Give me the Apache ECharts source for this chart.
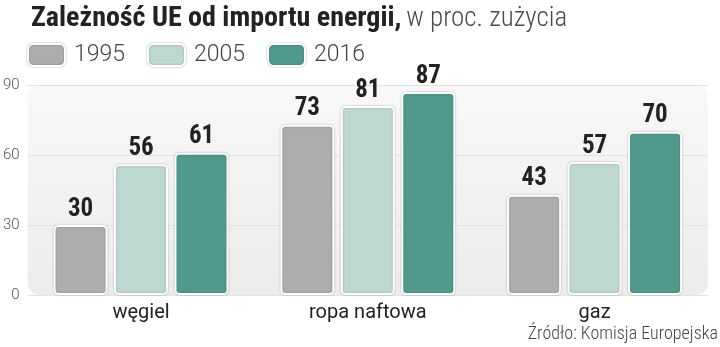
<!DOCTYPE html>
<html>
<head>
<meta charset="utf-8">
<script src="https://cdn.jsdelivr.net/npm/echarts@6/dist/echarts.min.js"></script>
<style>
  html, body { margin: 0; padding: 0; background: #ffffff; }
  #chart { width: 720px; height: 347px; }
</style>
</head>
<body>
<div id="chart"></div>
<script>
// Import dependency of the EU by energy source, % of consumption
const categories = ['węgiel', 'ropa naftowa', 'gaz'];
const years = ['1995', '2005', '2016'];
const values1995 = [30, 73, 43];
const values2005 = [56, 81, 57];
const values2016 = [61, 87, 70];
const yTicks = [0, 30, 60, 90];

const colors = ['#adadad', '#bdd8d0', '#4f9a8c'];
const condensed = '"Roboto Condensed", Roboto, sans-serif';

const chart = echarts.init(document.getElementById('chart'), null, { renderer: 'canvas' });

function barSeries(name, data, color) {
  return {
    name: name,
    type: 'bar',
    data: data,
    barWidth: 54,
    barGap: '12%',
    itemStyle: {
      color: color,
      borderColor: '#ffffff',
      borderWidth: 2,
      borderRadius: 4,
      shadowColor: 'rgba(0,0,0,0.25)',
      shadowBlur: 2
    },
    label: {
      show: true,
      position: 'top',
      distance: 3,
      color: '#222222',
      fontFamily: condensed,
      fontWeight: 'bold',
      fontSize: 25
    },
    z: 3
  };
}

const option = {
  backgroundColor: '#ffffff',
  animation: false,
  title: {
    text: '{b|Zależność UE od importu energii,} {n|w proc. zużycia}',
    left: 26,
    top: 0,
    textStyle: {
      rich: {
        b: { fontFamily: condensed, fontWeight: 'bold', fontSize: 28, color: '#222222' },
        n: { fontFamily: condensed, fontWeight: 300, fontSize: 27, color: '#4a4a4a' }
      }
    }
  },
  legend: {
    data: years,
    left: 22,
    top: 38,
    itemWidth: 37,
    itemHeight: 22,
    itemGap: 22,
    icon: 'roundRect',
    itemStyle: { borderColor: '#ffffff', borderWidth: 2, shadowColor: 'rgba(0,0,0,0.3)', shadowBlur: 2 },
    textStyle: { fontFamily: 'Roboto, sans-serif', fontWeight: 300, fontSize: 23, color: '#444444', padding: [0, 0, 0, 4] }
  },
  grid: { left: 26, right: 12, top: 85, bottom: 52, containLabel: false },
  xAxis: {
    type: 'category',
    data: categories,
    axisLine: { show: false },
    axisTick: { show: false },
    axisLabel: { color: '#222222', fontFamily: 'Roboto, sans-serif', fontSize: 20, margin: 8 }
  },
  yAxis: {
    type: 'value',
    min: 0,
    max: 90,
    interval: 30,
    axisLine: { show: false },
    axisTick: { show: false },
    axisLabel: {
      color: '#555555',
      fontFamily: 'Roboto, sans-serif',
      fontWeight: 300,
      fontSize: 15,
      margin: 8,
      formatter: v => (yTicks.indexOf(v) >= 0 ? String(v) : '')
    },
    splitLine: { show: true, lineStyle: { color: '#e2e2e2', width: 1 } }
  },
  series: [
    barSeries(years[0], values1995, colors[0]),
    barSeries(years[1], values2005, colors[1]),
    barSeries(years[2], values2016, colors[2])
  ],
  color: colors
};

chart.setOption(option);

// Rounded, softly shaded panel behind the plot area
const tl = chart.convertToPixel({ xAxisIndex: 0, yAxisIndex: 0 }, [0, 90]);
const br = chart.convertToPixel({ xAxisIndex: 0, yAxisIndex: 0 }, [2, 0]);
const band = chart.getModel().getComponent('xAxis', 0).axis.getBandWidth();
const x0 = tl[0] - band / 2;
const x1 = br[0] + band / 2;

chart.setOption({
  graphic: [
    {
      type: 'rect',
      z: -10,
      silent: true,
      shape: { x: x0, y: tl[1], width: x1 - x0, height: br[1] - tl[1], r: 12 },
      style: {
        fill: new echarts.graphic.LinearGradient(0, 0, 0, 1, [
          { offset: 0, color: '#f8f8f8' },
          { offset: 1, color: '#ececec' }
        ])
      }
    },
    {
      type: 'text',
      right: 2,
      bottom: 4,
      style: {
        text: 'Źródło: Komisja Europejska',
        fill: '#444444',
        font: '300 18px ' + condensed
      }
    }
  ]
});
</script>
</body>
</html>
